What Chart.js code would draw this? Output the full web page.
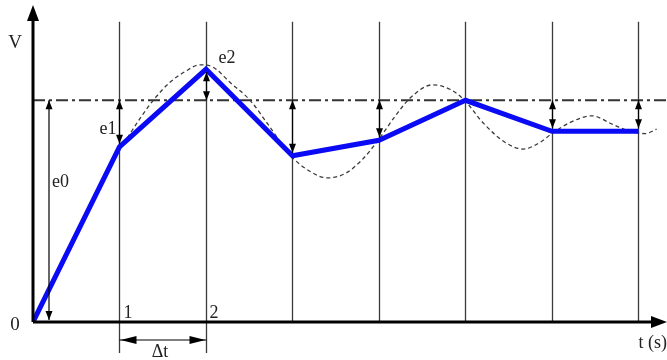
<!DOCTYPE html>
<html>
<head>
<meta charset="utf-8">
<script src="https://cdn.jsdelivr.net/npm/chart.js@4/dist/chart.umd.min.js"></script>
<style>
  html, body { margin: 0; padding: 0; background: #fff; }
  canvas { display: block; }
</style>
</head>
<body>
<canvas id="stepCanvas" width="667" height="360"></canvas>
<script>
// sampled response, one value per time step
const steps = [0, 1, 2, 3, 4, 5, 6, 7];
const sampled = [0, 0.79, 1.14, 0.75, 0.82, 1.0, 0.86, 0.86];

// continuous (real) response
const realT = [1.09, 1.24, 1.39, 1.58, 1.76, 1.93, 2.08, 2.28, 2.51, 2.72, 2.98, 3.2, 3.4, 3.61, 3.8, 3.99, 4.19, 4.36, 4.62, 4.82, 4.99, 5.2, 5.46, 5.67, 5.86, 6.0, 6.21, 6.46, 6.71, 6.9, 7.08, 7.21];
const realV = [0.83, 0.92, 1.0, 1.08, 1.13, 1.16, 1.15, 1.08, 1.0, 0.89, 0.75, 0.68, 0.65, 0.67, 0.73, 0.82, 0.93, 1.01, 1.07, 1.05, 1.0, 0.9, 0.81, 0.78, 0.81, 0.85, 0.9, 0.93, 0.89, 0.86, 0.85, 0.87];

const setpoint = 1.0;
const tMax = 7.33;
const vMax = 1.43;
const lineTop = 1.355;

const errorLabels = ["e0", "e1", "e2"];

function arrowHead(ctx, x, y, dx, dy, len, half) {
    ctx.beginPath();
    ctx.moveTo(x, y);
    ctx.lineTo(x - dx * len - dy * half, y - dy * len + dx * half);
    ctx.lineTo(x - dx * len + dy * half, y - dy * len - dx * half);
    ctx.closePath();
    ctx.fill();
}

function vArrow(ctx, x, y1, y2, len, half) {
    // double headed vertical arrow between y1 and y2
    ctx.beginPath();
    ctx.moveTo(x, y1);
    ctx.lineTo(x, y2);
    ctx.stroke();
    const dir = y2 > y1 ? 1 : -1;
    arrowHead(ctx, x, y2, 0, dir, len, half);
    arrowHead(ctx, x, y1, 0, -dir, len, half);
}

const sketch = {
    id: "sketch",
    beforeDatasetsDraw(chart) {
        const ctx = chart.ctx;
        const xs = chart.scales.x, ys = chart.scales.y;
        ctx.save();
        ctx.strokeStyle = "#3a3a3a";
        ctx.lineWidth = 1.3;
        steps.slice(1).forEach(t => {
            const x = Math.round(xs.getPixelForValue(t)) + 0.5;
            const bottom = t <= 2 ? ys.bottom + 31 : ys.bottom;
            ctx.beginPath();
            ctx.moveTo(x, ys.getPixelForValue(lineTop));
            ctx.lineTo(x, bottom);
            ctx.stroke();
        });
        ctx.restore();
    },
    afterDatasetsDraw(chart) {
        const ctx = chart.ctx;
        const xs = chart.scales.x, ys = chart.scales.y;
        const ySet = ys.getPixelForValue(setpoint);
        ctx.save();
        ctx.fillStyle = "#000";
        ctx.strokeStyle = "#000";

        // error arrows between setpoint and each sample
        ctx.lineWidth = 1.2;
        const x0 = xs.getPixelForValue(0.185);
        vArrow(ctx, x0, ySet, ys.getPixelForValue(0) - 2, 9, 3.5);
        steps.slice(1).forEach((t, i) => {
            const v = sampled[i + 1];
            if (Math.abs(v - setpoint) < 0.02) return;
            const x = Math.round(xs.getPixelForValue(t)) + 0.5;
            const yv = ys.getPixelForValue(v) + (v < setpoint ? -3 : 3);
            vArrow(ctx, x, ySet, yv, 9, 3.5);
        });

        // axes with arrow tips
        ctx.lineWidth = 3;
        const ox = xs.getPixelForValue(0), oy = ys.getPixelForValue(0);
        ctx.beginPath();
        ctx.moveTo(ox, oy);
        ctx.lineTo(ox, ys.top + 12);
        ctx.moveTo(ox, oy);
        ctx.lineTo(xs.right - 12, oy);
        ctx.stroke();
        arrowHead(ctx, ox, ys.top, 0, -1, 16, 6);
        arrowHead(ctx, xs.right, oy, 1, 0, 16, 6);

        // time step dimension
        const x1 = Math.round(xs.getPixelForValue(1)) + 0.5;
        const x2 = Math.round(xs.getPixelForValue(2)) + 0.5;
        const yd = oy + 18;
        ctx.lineWidth = 1.2;
        ctx.beginPath();
        ctx.moveTo(x1, yd);
        ctx.lineTo(x2, yd);
        ctx.stroke();
        arrowHead(ctx, x1 + 1, yd, -1, 0, 16, 4);
        arrowHead(ctx, x2 - 1, yd, 1, 0, 16, 4);

        // labels
        ctx.fillStyle = "#222";
        ctx.textBaseline = "middle";
        ctx.font = '19px "Liberation Serif"';
        ctx.textAlign = "center";
        ctx.fillText("V", ox - 18, ys.getPixelForValue(1.26));
        ctx.fillText("0", ox - 18, oy + 3);
        ctx.font = '18px "Liberation Serif"';
        ctx.textAlign = "left";
        ctx.fillText("1", x1 + 4, oy - 9);
        ctx.fillText("2", x2 + 3, oy - 9);
        ctx.textAlign = "center";
        ctx.fillText("\u0394t", (x1 + x2) / 2 - 3, oy + 30);
        ctx.textAlign = "right";
        ctx.fillText("t (s)", xs.right, oy + 21);
        ctx.textAlign = "left";
        ctx.fillText(errorLabels[0], x0 + 3, ys.getPixelForValue(0.63));
        ctx.textAlign = "right";
        ctx.fillText(errorLabels[1], x1 - 3, ys.getPixelForValue(0.87));
        ctx.textAlign = "left";
        ctx.fillText(errorLabels[2], x2 + 12, ys.getPixelForValue(1.19));
        ctx.restore();
    }
};

const stepCanvas = document.getElementById("stepCanvas");
const stepChart = new Chart(stepCanvas, {
    type: "line",
    data: {
        datasets: [
            {
                data: steps.map((t, i) => ({ x: t, y: sampled[i] })),
                borderColor: "#0a0af5",
                borderWidth: 5,
                borderJoinStyle: "miter",
                pointRadius: 0,
                tension: 0,
                order: 0
            },
            {
                data: realT.map((t, i) => ({ x: t, y: realV[i] })),
                borderColor: "#3c3c3c",
                borderWidth: 1.3,
                borderDash: [4, 3],
                pointRadius: 0,
                cubicInterpolationMode: "monotone",
                order: 1
            },
            {
                data: [{ x: 0, y: setpoint }, { x: tMax, y: setpoint }],
                borderColor: "#333",
                borderWidth: 2,
                borderDash: [12, 4, 3, 4],
                pointRadius: 0,
                order: 2
            }
        ]
    },
    options: {
        responsive: false,
        animation: false,
        layout: {
            padding: { left: 33, right: 0, top: 5, bottom: 38 }
        },
        scales: {
            x: { type: "linear", min: 0, max: tMax, display: false },
            y: { type: "linear", min: 0, max: vMax, display: false }
        },
        plugins: {
            legend: { display: false },
            tooltip: { enabled: false }
        }
    },
    plugins: [sketch]
})
</script>
</body>
</html>
